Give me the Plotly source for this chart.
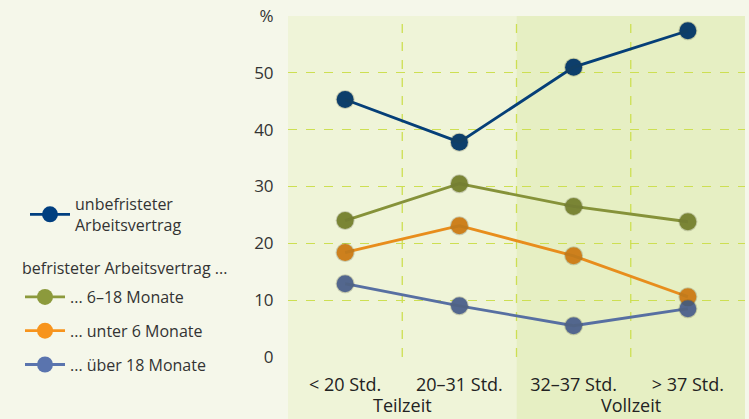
import plotly.graph_objects as go

categories = ["< 20 Std.", "20–31 Std.", "32–37 Std.", "> 37 Std."]
groups = ["Teilzeit", "Vollzeit"]
group_centers = [0.5, 2.5]
heading = "befristeter Arbeitsvertrag ..."

unbefristet = [45.3, 37.8, 51.0, 57.4]
monate_6_18 = [24.0, 30.5, 26.5, 23.8]
unter_6 = [18.4, 23.1, 17.8, 10.6]
ueber_18 = [12.9, 9.0, 5.5, 8.5]

y_tickvals = [0, 10, 20, 30, 40, 50, 60]
y_ticktext = ["0", "10", "20", "30", "40", "50", "%"]

series = [
    ("unbefristeter<br>Arbeitsvertrag", unbefristet, "#003f80", "g1", "legend"),
    ("... 6–18 Monate", monate_6_18, "#8c9a3c", "g2", "legend2"),
    ("... unter 6 Monate", unter_6, "#f7941d", "g3", "legend2"),
    ("... über 18 Monate", ueber_18, "#5a74ae", "g4", "legend2"),
]

FONT = "Open Sans"
W, H = 749, 419
ML, MR, MT, MB = 288, 0, 16, 58
PW = W - ML - MR
PH = H - MT - MB
DX, DY = 4, 4

fig = go.Figure()

# soft drop shadows (same data, axes shifted a few pixels right/down)
for name, vals, color, grp, leg in series:
    fig.add_trace(go.Scatter(
        x=categories, y=vals, mode="lines+markers", xaxis="x2", yaxis="y2",
        line=dict(color="rgba(60,60,30,0.08)", width=3),
        marker=dict(size=19, color="rgba(60,60,30,0.22)"),
        showlegend=False, hoverinfo="skip"))

for name, vals, color, grp, leg in series:
    fig.add_trace(go.Scatter(
        x=categories, y=vals, mode="lines+markers", name=name,
        legendgroup=grp, legend=leg,
        line=dict(color=color, width=2.8),
        marker=dict(size=17, color=color)))

shapes = [
    dict(type="rect", xref="x", yref="paper", x0=-0.5, x1=1.5, y0=-0.3, y1=1,
         fillcolor="#eff4d8", line_width=0, layer="below"),
    dict(type="rect", xref="x", yref="paper", x0=1.5, x1=3.5, y0=-0.3, y1=1,
         fillcolor="#e6efc3", line_width=0, layer="below"),
]
for xv in [0.5, 1.5, 2.5]:
    shapes.append(dict(type="line", xref="x", yref="y", x0=xv, x1=xv, y0=0, y1=60,
                       line=dict(color="#cddf52", width=1.3, dash="dash"), layer="below"))

annotations = [
    dict(text=g, x=c, xref="x", y=-(405 - (H - MB)) / PH, yref="paper", showarrow=False,
         font=dict(size=18, color="#222222", family=FONT), yanchor="middle")
    for g, c in zip(groups, group_centers)
]
annotations.append(dict(text=heading, x=(20 - ML) / PW, xref="paper", xanchor="left",
                        y=((H - MB) - 268) / PH, yref="paper", yanchor="middle",
                        showarrow=False, font=dict(size=16, color="#333333", family=FONT)))

legend_common = dict(xref="container", yref="container", xanchor="left", yanchor="top",
                     bgcolor="rgba(0,0,0,0)", font=dict(size=16, color="#333333", family=FONT),
                     tracegroupgap=10, itemwidth=40)

fig.update_layout(
    width=W, height=H,
    margin=dict(l=ML, r=MR, t=MT, b=MB),
    paper_bgcolor="#f5f7ea", plot_bgcolor="rgba(0,0,0,0)",
    font=dict(family=FONT, size=16, color="#333333"),
    shapes=shapes, annotations=annotations,
    xaxis=dict(type="category", range=[-0.5, 3.5], domain=[0, (PW - DX) / PW],
               showgrid=False, zeroline=False, showline=False, automargin=False,
               ticks="outside", ticklen=11, tickcolor="rgba(0,0,0,0)",
               tickfont=dict(size=18, color="#222222")),
    yaxis=dict(range=[0, 60], domain=[DY / PH, 1], tickvals=y_tickvals, ticktext=y_ticktext,
               showgrid=True, gridcolor="#cddf52", griddash="dash", gridwidth=1.3,
               zeroline=False, showline=False, automargin=False,
               ticks="outside", ticklen=10, tickcolor="rgba(0,0,0,0)",
               tickfont=dict(size=17, color="#333333")),
    xaxis2=dict(type="category", range=[-0.5, 3.5], domain=[DX / PW, 1], overlaying="x",
                visible=False, anchor="y2", automargin=False),
    yaxis2=dict(range=[0, 60], domain=[0, (PH - DY) / PH], overlaying="y", visible=False,
                anchor="x2", automargin=False),
    legend=dict(x=25 / W, y=1 - 187 / H, **legend_common),
    legend2=dict(x=20 / W, y=1 - 280 / H, **legend_common),
    showlegend=True,
)

fig.write_html("out.html", config={"displayModeBar": False},
               post_script="document.body.style.margin='0';"
                           "document.body.style.background='#f5f7ea';")
